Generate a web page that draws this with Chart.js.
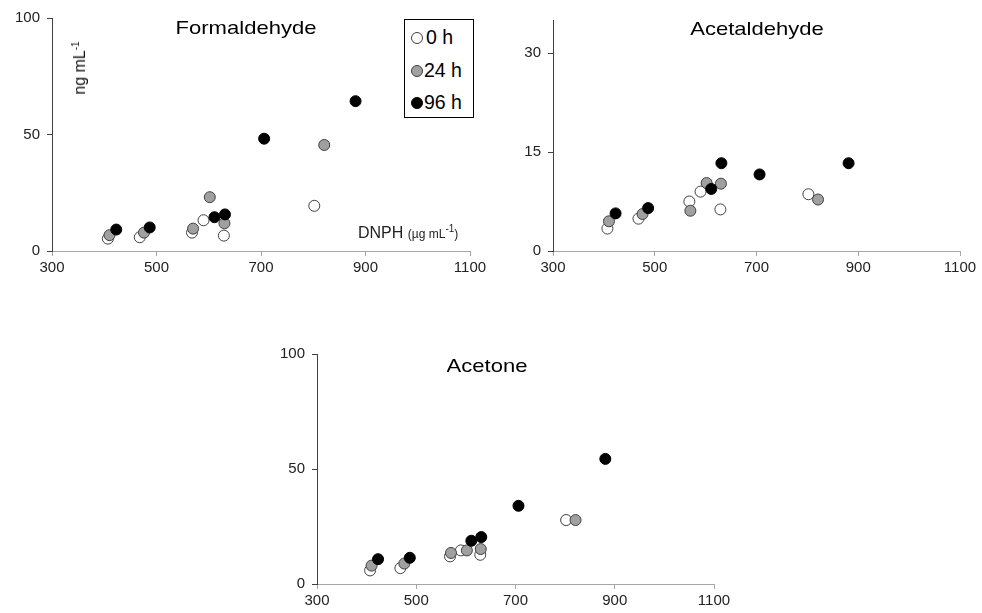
<!DOCTYPE html>
<html>
<head>
<meta charset="utf-8">
<script src="https://cdn.jsdelivr.net/npm/chart.js@4.4.1/dist/chart.umd.min.js"></script>
<style>
  body { margin: 0; background: #fff; font-family: 'Liberation Sans', Arial, sans-serif; color: #000; }
  #wrap { position: relative; width: 982px; height: 613px; overflow: hidden; }
  canvas { position: absolute; }
  .title { position: absolute; font-size: 19px; line-height: 19px; white-space: nowrap; transform: translateX(-50%) scaleX(1.16); }
  .ylab { position: absolute; font-size: 16px; line-height: 16px; white-space: nowrap; transform: translate(-50%, -50%) rotate(-90deg); color: #111; }
  .xlab { position: absolute; font-size: 16px; line-height: 16px; white-space: nowrap; color: #222; }
  .xlab small { font-size: 12px; }
  sup { font-size: 10px; vertical-align: 6px; line-height: 0; }
  #legend { position: absolute; left: 404px; top: 19px; width: 68px; height: 97px; border: 1px solid #000; background: #fff; }
  .row { position: absolute; left: 0; font-size: 19.5px; line-height: 20px; white-space: nowrap; }
  .dot { position: absolute; width: 9px; height: 9px; border-radius: 50%; border: 1px solid #404040; }
</style>
</head>
<body>
<div id="wrap">
  <canvas id="formal" width="490" height="290" style="left:0;top:0"></canvas>
  <canvas id="acetal" width="492" height="290" style="left:490px;top:0"></canvas>
  <canvas id="acetone" width="490" height="283" style="left:250px;top:330px"></canvas>

  <div class="title" style="left:246px;top:18px">Formaldehyde</div>
  <div class="title" style="left:757px;top:19px">Acetaldehyde</div>
  <div class="title" style="left:487px;top:356px">Acetone</div>

  <div class="ylab" style="left:80px;top:68px">ng mL<sup>-1</sup></div>
  <div class="xlab" style="left:358px;top:225px">DNPH <small>(µg mL<sup>-1</sup>)</small></div>

  <div id="legend"></div>
</div>
<script>
// time points
const hours = ['0 h', '24 h', '96 h'];

// DNPH concentration (x) for each time point
const dnph0 = [407, 468, 568, 590, 629, 802];
const dnph24 = [410, 476, 570, 602, 630, 821];
const dnph96 = [423, 487, 611, 631, 706, 881];

// Formaldehyde, ng/mL
const formal0 = [5.3, 5.9, 7.9, 13.2, 6.6, 19.4];
const formal24 = [6.8, 7.9, 9.6, 23.1, 11.9, 45.5];
const formal96 = [9.2, 10.1, 14.5, 15.7, 48.2, 64.3];

// Acetaldehyde, ng/mL
const acetal0 = [3.4, 4.9, 7.5, 9.0, 6.3, 8.6];
const acetal24 = [4.5, 5.6, 6.1, 10.3, 10.2, 7.8];
const acetal96 = [5.7, 6.5, 9.4, 13.3, 11.6, 13.3];

// Acetone, ng/mL
const acetone0 = [5.9, 6.9, 12.0, 14.6, 12.7, 27.8];
const acetone24 = [8.0, 8.9, 13.5, 14.6, 15.2, 27.8];
const acetone96 = [10.8, 11.4, 18.8, 20.4, 34.0, 54.4];

// tick labels
const xTicks = [300, 500, 700, 900, 1100];
const yTicksBig = [0, 50, 100];
const yTicksAcetal = [0, 15, 30];

const fills = ['#ffffff', '#a0a0a0', '#000000'];
const borders = ['#404040', '#404040', '#000000'];
const dnph = [dnph0, dnph24, dnph96];

function toPoints(xs, ys) {
  return xs.map((x, i) => ({ x: x, y: ys[i] }));
}

const tickFont = { family: 'Liberation Sans', size: 15 };

function makeScatter(id, series, yMax, yTicks, pad, yWidth, xHeight) {
  const ctx = document.getElementById(id);
  return new Chart(ctx, {
    type: 'scatter',
    data: {
      datasets: series.map((ys, i) => ({
        label: hours[i],
        data: toPoints(dnph[i], ys),
        backgroundColor: fills[i],
        borderColor: borders[i],
        borderWidth: 1,
        pointRadius: 5.5,
        order: 2 - i,
      })),
    },
    options: {
      responsive: false,
      animation: false,
      devicePixelRatio: 1,
      layout: { padding: pad },
      plugins: { legend: { display: false }, tooltip: { enabled: false } },
      scales: {
        x: {
          type: 'linear',
          min: 300,
          max: 1100,
          afterBuildTicks: (scale) => { scale.ticks = xTicks.map(v => ({ value: v })); },
          afterFit: (scale) => { scale.height = xHeight; },
          ticks: { color: '#222', font: tickFont, padding: 3, maxRotation: 0, callback: (v) => String(v) },
          grid: { drawOnChartArea: false, drawTicks: true, tickLength: 5, color: '#a6a6a6' },
          border: { display: true, color: '#a6a6a6', width: 1 },
        },
        y: {
          type: 'linear',
          min: 0,
          max: yMax,
          afterBuildTicks: (scale) => { scale.ticks = yTicks.map(v => ({ value: v })); },
          afterFit: (scale) => { scale.width = yWidth; },
          ticks: { color: '#222', font: tickFont, padding: 7, callback: (v) => String(v) },
          grid: { drawOnChartArea: false, drawTicks: true, tickLength: 5, color: '#404040' },
          border: { display: true, color: '#404040', width: 1 },
        },
      },
    },
  });
}

makeScatter('formal', [formal0, formal24, formal96], 100, yTicksBig,
  { top: 18, right: 20, bottom: 0, left: 0 }, 52, 39);
makeScatter('acetal', [acetal0, acetal24, acetal96], 35, yTicksAcetal,
  { top: 20, right: 22, bottom: 0, left: 0 }, 63, 39);
makeScatter('acetone', [acetone0, acetone24, acetone96], 100, yTicksBig,
  { top: 24, right: 26, bottom: 0, left: 0 }, 67, 29);

// legend box in the formaldehyde panel
const legend = document.getElementById('legend');
const rowTops = [7, 40, 72];
hours.forEach((h, i) => {
  const row = document.createElement('div');
  row.className = 'row';
  row.style.top = rowTops[i] + 'px';
  row.innerHTML = '<span class="dot" style="left:6px;top:5px;width:10px;height:10px;background:' + fills[i] +
    ';border-color:' + borders[i] + '"></span><span style="position:absolute;left:' +
    (i === 0 ? 21 : 19) + 'px">' + h + '</span>';
  legend.appendChild(row);
});
</script>
</body>
</html>
